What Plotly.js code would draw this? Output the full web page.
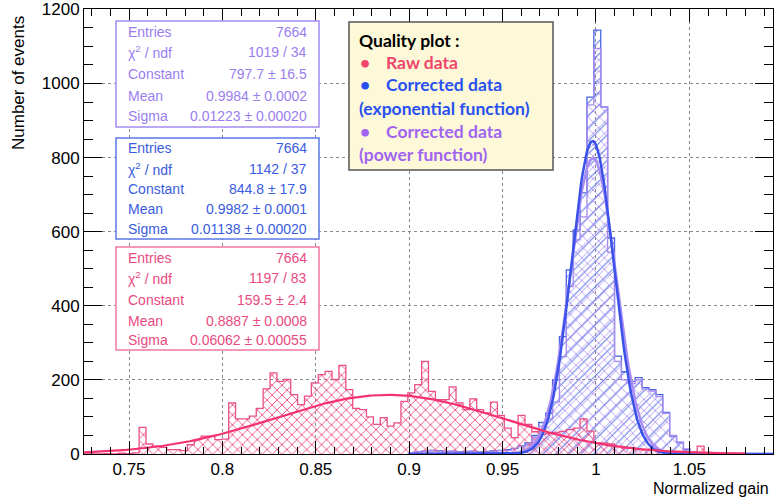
<!DOCTYPE html>
<html><head><meta charset="utf-8">
<script src="https://cdn.plot.ly/plotly-3.0.1.min.js"></script>
<style>html,body{margin:0;padding:0;background:#fff}#chart{width:775px;height:499px}</style>
</head><body><div id="chart"></div>
<script>
// ---------- data ----------
const binStart = 0.7259;
const binWidth = 0.003689;
const rawCounts = [0,0,0,1,0,2,1,3,72,27,21,18,12,12,9,25,39,48,48,39,
  40,138,95,95,102,123,176,219,196,201,160,133,156,192,214,223,201,239,174,123,
  120,100,80,98,75,84,142,165,187,250,169,147,147,181,138,120,149,120,111,140,
  104,70,44,104,80,60,53,55,58,61,66,70,95,62,30,30,27,20,16,15,
  12,11,10,8,6,4,3,2,3,21,4,1,0,0,0,0,0,0,0,0];
const expCounts = [0,0,0,0,0,0,0,0,0,0,0,0,0,0,0,0,0,0,0,0,
  0,0,0,0,0,0,0,0,0,0,0,0,0,0,0,0,0,0,0,0,
  0,0,0,0,0,0,0,2,6,8,10,9,7,8,6,7,8,6,7,9,
  10,12,15,22,30,50,85,110,200,317,497,605,705,963,1144,937,583,264,222,196,
  206,179,174,160,112,48,31,12,5,3,1,0,0,0,0,0,0,0,0,0];
const powCounts = [0,0,0,0,0,0,0,0,0,0,0,0,0,0,0,0,0,0,0,0,
  0,0,0,0,0,0,0,0,0,0,0,0,0,0,0,0,0,0,0,0,
  0,0,0,0,0,0,0,1,5,7,9,8,6,7,5,6,7,5,6,8,
  9,10,14,20,25,45,75,95,140,263,452,578,640,942,1095,937,545,250,200,190,
  200,175,170,155,110,50,32,14,6,3,1,0,0,0,0,0,0,0,0,0];
// Gaussian fit parameters: [Constant, Mean, Sigma]
const fitRaw = [159.5, 0.8887, 0.06062];
const fitExp = [844.8, 0.9982, 0.01138];
const fitPow = [797.7, 0.9984, 0.01223];
// stats box texts
const statLabels = ["Entries", "\u03c7<sup>2</sup> / ndf", "Constant", "Mean", "Sigma"];
const statsPow = ["7664", "1019 / 34", "797.7 \u00b1 16.5", "0.9984 \u00b1 0.0002", "0.01223 \u00b1 0.00020"];
const statsExp = ["7664", "1142 / 37", "844.8 \u00b1 17.9", "0.9982 \u00b1 0.0001", "0.01138 \u00b1 0.00020"];
const statsRaw = ["7664", "1197 / 83", "159.5 \u00b1 2.4", "0.8887 \u00b1 0.0008", "0.06062 \u00b1 0.00055"];
const xTickVals = [0.75, 0.8, 0.85, 0.9, 0.95, 1, 1.05];
const xTickText = ["0.75", "0.8", "0.85", "0.9", "0.95", "1", "1.05"];
const yTickVals = [0, 200, 400, 600, 800, 1000, 1200];
const legendTitle = "Quality plot :";
const legendLines = ["Raw data", "Corrected data", "(exponential function)", "Corrected data", "(power function)"];
const xTitle = "Normalized gain";
const yTitle = "Number of events";

// ---------- helpers ----------
const W = 775, H = 499, ML = 84, MR = 2, MT = 9, MB = 45;
const PW = W - ML - MR, PH = H - MT - MB;
const px = v => (v - ML) / PW;
const py = v => (H - MB - v) / PH;

function stepTrace(counts, color, pattern, full) {
  let first = counts.findIndex(c => c > 0);
  let last = counts.length - 1 - [...counts].reverse().findIndex(c => c > 0);
  if (full) { first = 0; last = counts.length - 1; }
  const xs = [], ys = [];
  for (let i = first; i <= last; i++) { xs.push(binStart + i * binWidth); ys.push(counts[i]); }
  xs.push(binStart + (last + 1) * binWidth); ys.push(counts[last]);
  return {
    type: 'scatter', mode: 'lines', x: xs, y: ys,
    line: {shape: 'hv', color: color, width: 1.3},
    fill: 'tozeroy', fillcolor: 'rgba(0,0,0,0)',
    fillpattern: pattern, hoverinfo: 'skip', showlegend: false
  };
}
function gaussTrace(p, x0, x1, color, width) {
  const xs = [], ys = [];
  const n = 400;
  for (let i = 0; i <= n; i++) {
    const x = x0 + (x1 - x0) * i / n;
    xs.push(x); ys.push(p[0] * Math.exp(-0.5 * Math.pow((x - p[1]) / p[2], 2)));
  }
  return {type: 'scatter', mode: 'lines', x: xs, y: ys, line: {color: color, width: width}, hoverinfo: 'skip', showlegend: false};
}

const xMin = binStart, xMax = binStart + 100 * binWidth;
const traces = [
  stepTrace(expCounts, '#4a64e0', {shape: '/', fgcolor: '#6a80ea', bgcolor: 'rgba(0,0,0,0)', size: 9, solidity: 0.13}, false),
  stepTrace(powCounts, '#a68af0', {shape: 'x', fgcolor: '#a48af0', bgcolor: 'rgba(0,0,0,0)', size: 8, solidity: 0.18}, false),
  stepTrace(rawCounts, '#e9508a', {shape: 'x', fgcolor: '#ec5a8e', bgcolor: 'rgba(0,0,0,0)', size: 7, solidity: 0.26}, true),
  gaussTrace(fitPow, 0.90, xMax, '#a98cf5', 2.5),
  gaussTrace(fitExp, 0.90, xMax, '#3a52e8', 2.5),
  gaussTrace(fitRaw, xMin, 1.08, '#f5336e', 2.2)
];

// ---------- boxes & texts ----------
const shapes = [], annotations = [];
function statsBox(vals, color, border, top, bottom, rowsY) {
  shapes.push({type: 'rect', xref: 'paper', yref: 'paper', x0: px(116), x1: px(319), y0: py(bottom), y1: py(top),
    fillcolor: '#ffffff', line: {color: border, width: 1.5}, layer: 'above'});
  for (let i = 0; i < statLabels.length; i++) {
    annotations.push({xref: 'paper', yref: 'paper', x: px(126), y: py(rowsY[i]), xanchor: 'left', yanchor: 'middle',
      text: statLabels[i], showarrow: false, font: {family: 'Liberation Sans, Arial', size: 14, color: color}});
    annotations.push({xref: 'paper', yref: 'paper', x: px(309), y: py(rowsY[i]), xanchor: 'right', yanchor: 'middle',
      text: vals[i], showarrow: false, font: {family: 'Liberation Sans, Arial', size: 14, color: color}});
  }
}
statsBox(statsPow, '#9a7ef0', '#a48cf2', 21, 127, [32, 52, 74, 96, 116]);
statsBox(statsExp, '#3a5ce0', '#5a78e6', 138, 239, [148, 169, 189, 209, 229]);
statsBox(statsRaw, '#ea4a82', '#f07aa0', 247, 350, [258, 278, 300, 321, 340]);

// legend box
shapes.push({type: 'rect', xref: 'paper', yref: 'paper', x0: px(349), x1: px(553), y0: py(170), y1: py(22),
  fillcolor: '#fdf9d8', line: {color: '#555555', width: 1.5}, layer: 'above'});
const lf = 'Lato, Open Sans, sans-serif';
annotations.push({xref: 'paper', yref: 'paper', x: px(357), y: py(40), xanchor: 'left', yanchor: 'middle', showarrow: false,
  text: '<b>' + legendTitle + '</b>', font: {family: lf, size: 17.5, color: '#000000'}});
const legCols = ['#f0466e', '#2850f0', '#2850f0', '#a064f0', '#a064f0'];
const legY = [62, 85, 108, 131, 154];
const bullets = [true, true, false, true, false];
for (let i = 0; i < legendLines.length; i++) {
  if (bullets[i]) {
    annotations.push({xref: 'paper', yref: 'paper', x: px(358), y: py(legY[i]), xanchor: 'left', yanchor: 'middle', showarrow: false,
      text: '<b>\u2022</b>', font: {family: lf, size: 17.5, color: legCols[i]}});
  }
  annotations.push({xref: 'paper', yref: 'paper', x: px(bullets[i] ? 384 : 357), y: py(legY[i]), xanchor: 'left', yanchor: 'middle', showarrow: false,
    text: '<b>' + legendLines[i] + '</b>', font: {family: lf, size: 17.5, color: legCols[i]}});
}
// axis titles
annotations.push({xref: 'paper', yref: 'paper', x: px(771), y: py(488), xanchor: 'right', yanchor: 'middle', showarrow: false,
  text: xTitle, font: {family: 'Liberation Sans, Arial', size: 16, color: '#000'}});
annotations.push({xref: 'paper', yref: 'paper', x: px(18), y: py(83), xanchor: 'center', yanchor: 'middle', showarrow: false,
  textangle: -90, text: yTitle, font: {family: 'Liberation Sans, Arial', size: 17, color: '#000'}});

const axisCommon = {
  ticks: 'inside', tickcolor: '#000', mirror: 'allticks', showline: true, linecolor: '#000', linewidth: 1,
  showgrid: true, gridcolor: '#888888', griddash: 'dot', gridwidth: 1, zeroline: false, ticklabeloverflow: 'allow',
  tickfont: {family: 'Liberation Sans, Arial', size: 17, color: '#000'}
};
const layout = {
  width: W, height: H, margin: {l: ML, r: MR, t: MT, b: MB},
  paper_bgcolor: '#fff', plot_bgcolor: '#fff', showlegend: false,
  xaxis: Object.assign({}, axisCommon, {range: [xMin, xMax], tickmode: 'array', tickvals: xTickVals, ticktext: xTickText,
    ticklen: 13, minor: {tickmode: 'linear', tick0: 0.7, dtick: 0.01, ticks: 'inside', ticklen: 7, tickcolor: '#000', showgrid: false}}),
  yaxis: Object.assign({}, axisCommon, {range: [0, 1201], tickmode: 'array', tickvals: yTickVals,
    ticklen: 18, minor: {tickmode: 'linear', tick0: 0, dtick: 50, ticks: 'inside', ticklen: 9, tickcolor: '#000', showgrid: false}}),
  shapes: shapes, annotations: annotations
};
Plotly.newPlot('chart', traces, layout, {staticPlot: true, displayModeBar: false});
</script></body></html>
